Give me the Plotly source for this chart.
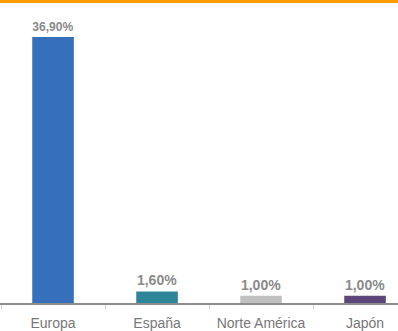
import plotly.graph_objects as go

categories = ["Europa", "España", "Norte América", "Japón"]
values = [36.9, 1.6, 1.0, 1.0]
labels = ["36,90%", "1,60%", "1,00%", "1,00%"]
colors = ["#3670bb", "#2e8499", "#c0c0c0", "#5d477a"]

fig = go.Figure(go.Bar(
    x=categories, y=values, text=labels, textposition="outside",
    marker=dict(color=colors, line=dict(width=0)),
    width=0.4, cliponaxis=False,
    textfont=dict(family="Liberation Sans, Arial", size=14, color="#8a8a8a", weight="bold"),
    hoverinfo="skip",
))

fig.update_layout(
    width=398, height=331,
    margin=dict(l=0, r=0, t=0, b=28),
    paper_bgcolor="white", plot_bgcolor="white",
    showlegend=False,
    xaxis=dict(
        range=[-0.51, 3.317], showgrid=False, showline=True, linecolor="#8c8c8c", linewidth=1.5,
        ticks="outside", tickson="boundaries", ticklen=4, tickcolor="#d0d0d0", tickwidth=1,
        tickfont=dict(family="Liberation Sans, Arial", size=14, color="#777777"),
        ticklabelstandoff=6,
        fixedrange=True,
    ),
    yaxis=dict(range=[0, 42.03], visible=False, fixedrange=True),
    shapes=[dict(type="line", xref="paper", yref="paper", x0=0, x1=1,
                 y0=1 - 1.5 / 303, y1=1 - 1.5 / 303,
                 line=dict(color="#ff9c00", width=3))],
)

fig.write_html("out.html", config={"displayModeBar": False},
               post_script="document.body.style.margin='0';document.body.style.overflow='hidden';")
